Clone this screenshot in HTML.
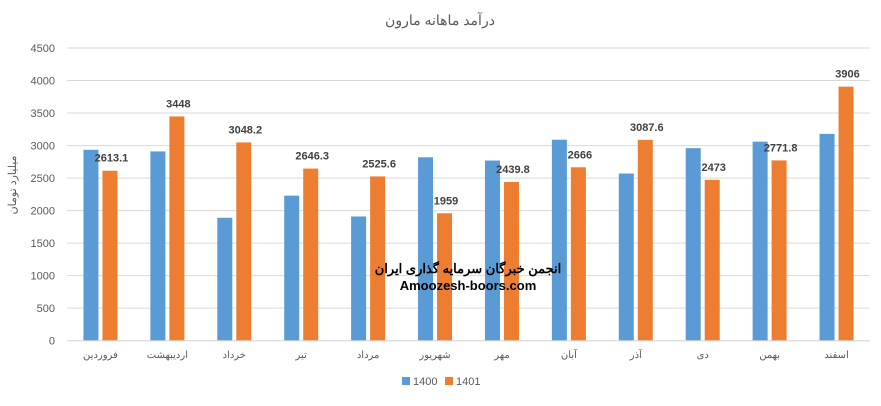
<!DOCTYPE html>
<html><head><meta charset="utf-8"><style>
body{margin:0;background:#fff;}
svg{font-family:"Liberation Sans","Noto Sans CJK SC",sans-serif;}
</style></head><body>
<svg id="c" width="881" height="401"></svg>
<script>
const categories=["فروردین","اردیبهشت","خرداد","تیر","مرداد","شهریور","مهر","آبان","آذر","دی","بهمن","اسفند"];
const series1400=[2935,2910,1890,2230,1910,2820,2770,3090,2570,2960,3060,3180];
const series1401=[2613.1,3448,3048.2,2646.3,2525.6,1959,2439.8,2666,3087.6,2473,2771.8,3906];
const labels1401=["2613.1","3448","3048.2","2646.3","2525.6","1959","2439.8","2666","3087.6","2473","2771.8","3906"];
const yTicks=[0,500,1000,1500,2000,2500,3000,3500,4000,4500];
const NS="http://www.w3.org/2000/svg";
const svg=document.getElementById('c');
const x0=67,x1=870,y0=340.7,yTop=48;
const y=v=>y0-(v/4500)*(y0-yTop);
const cw=(x1-x0)/categories.length;
const cx=i=>x0+cw*(i+0.5);
function mk(t,a,txt){const e=document.createElementNS(NS,t);for(const k in a)e.setAttribute(k,a[k]);if(txt!==undefined)e.textContent=txt;svg.appendChild(e);return e;}
let e=mk('text',{x:440,y:25,'text-anchor':'middle','font-size':14,fill:'#595959'},'درآمد ماهانه مارون');


yTicks.forEach(t=>{
 let g=mk('line',{x1:x0,x2:x1,y1:y(t),y2:y(t),stroke:'#d9d9d9','stroke-width':1});
 
 
 let l=mk('text',{x:55,y:y(t)+4,'text-anchor':'end','font-size':11,fill:'#595959'},t);
 
 
});
e=mk('text',{x:0,y:0,'text-anchor':'middle','font-size':11,fill:'#595959',transform:'translate(16,185) rotate(-90)'},'میلیارد تومان');


categories.forEach((c,i)=>{
 let b=mk('rect',{x:cx(i)-17,y:y(series1400[i]),width:15,height:y0-y(series1400[i]),fill:'#5b9bd5'});
 
 
 let o=mk('rect',{x:cx(i)+2,y:y(series1401[i]),width:15,height:y0-y(series1401[i]),fill:'#ed7d31'});
 
 
 let v=mk('text',{x:cx(i)+11,y:y(series1401[i])-9,'text-anchor':'middle','font-size':11,'font-weight':'bold',fill:'#404040'},labels1401[i]);
 
 
 let t=mk('text',{x:cx(i),y:358,'text-anchor':'middle','font-size':10,fill:'#595959'},c);
 
 
});
e=mk('line',{x1:x0,x2:x1,y1:y0,y2:y0,stroke:'#d9d9d9'});


e=mk('rect',{x:402,y:377,width:8,height:8,fill:'#5b9bd5'});


e=mk('text',{x:413,y:385,'font-size':11,fill:'#595959'},'1400');


e=mk('rect',{x:445,y:377,width:8,height:8,fill:'#ed7d31'});


e=mk('text',{x:456,y:385,'font-size':11,fill:'#595959'},'1401');


e=mk('text',{x:468,y:273,'text-anchor':'middle','font-size':13,'font-weight':'bold',fill:'#000'},'انجمن خبرگان سرمایه گذاری ایران');


e=mk('text',{x:468,y:290,'text-anchor':'middle','font-size':13,'font-weight':'bold',fill:'#000'},'Amoozesh-boors.com');


</script>
</body></html>
